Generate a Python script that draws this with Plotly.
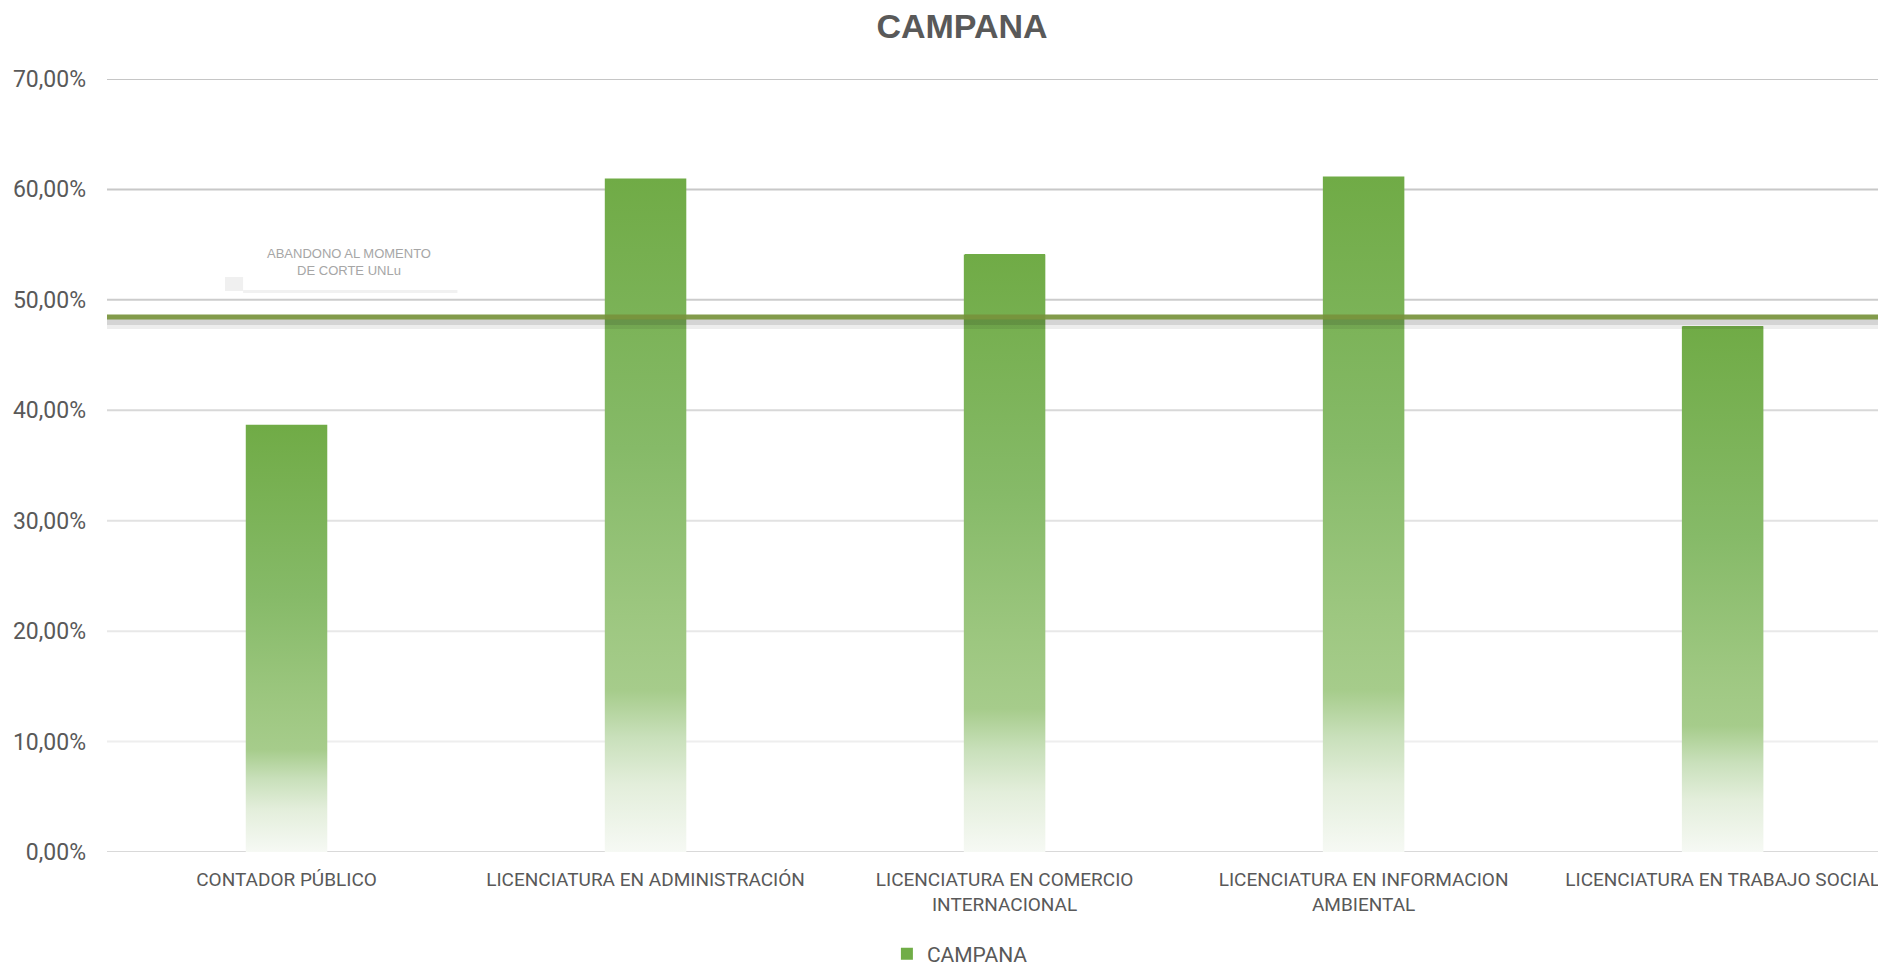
import plotly.graph_objects as go

# data
categories = [
    "CONTADOR PÚBLICO",
    "LICENCIATURA EN ADMINISTRACIÓN",
    "LICENCIATURA EN COMERCIO INTERNACIONAL",
    "LICENCIATURA EN INFORMACION AMBIENTAL",
    "LICENCIATURA EN TRABAJO SOCIAL",
]
tick_labels = [
    "CONTADOR PÚBLICO",
    "LICENCIATURA EN ADMINISTRACIÓN",
    "LICENCIATURA EN COMERCIO<br>INTERNACIONAL",
    "LICENCIATURA EN INFORMACION<br>AMBIENTAL",
    "LICENCIATURA EN TRABAJO SOCIAL",
]
abandono = [0.3869, 0.6099, 0.5411, 0.6117, 0.4760]
corte_unlu = 0.4845
y_ticks = [0.0, 0.1, 0.2, 0.3, 0.4, 0.5, 0.6, 0.7]

# styling
grid_colors = ["#d9d9d9", "#eeeeee", "#e8e8e8", "#e2e2e2", "#d8d8d8", "#cccccc", "#c8c8c8", "#c6c6c6"]
bar_gradient = [
    [0.0, "#f6f9f4"],
    [0.1, "#e3eedb"],
    [0.17, "#c9e0bb"],
    [0.24, "#a6cc8b"],
    [0.35, "#9dc780"],
    [0.6, "#86ba68"],
    [1.0, "#70ab46"],
]
bar_w = 0.223
text_grey = "#595959"

# the page body adds an 8px offset, so the figure is sized to fit the window
W, H = 1878, 960

fig = go.Figure()

fig.add_trace(go.Bar(
    x=list(range(len(categories))),
    y=abandono,
    width=bar_w,
    name="CAMPANA",
    marker=dict(color="#70AD47", line=dict(width=0)),
    customdata=categories,
    hovertemplate="%{customdata}<br>%{y:.2%}<extra></extra>",
))

# gradient overlay on each bar (a hair wider to hide the solid bar edges)
half = bar_w / 2 + 0.002
for i, v in enumerate(abandono):
    fig.add_trace(go.Scatter(
        x=[i - half, i + half, i + half, i - half, i - half],
        y=[0, 0, v, v, 0],
        mode="lines",
        line=dict(width=0),
        fill="toself",
        fillgradient=dict(type="vertical", colorscale=bar_gradient),
        showlegend=False,
        hoverinfo="skip",
    ))

shapes = []
# gridlines, fading towards the bottom
for t, c in zip(y_ticks, grid_colors):
    shapes.append(dict(
        type="line", xref="paper", x0=0, x1=1, yref="y", y0=t, y1=t,
        line=dict(color=c, width=2), layer="below",
    ))

# threshold line with soft shadow
shapes.append(dict(
    type="rect", xref="paper", x0=0, x1=1, yref="y", ysizemode="pixel",
    yanchor=corte_unlu, y0=-2, y1=-8, fillcolor="rgba(0,0,0,0.17)", line=dict(width=0),
))
shapes.append(dict(
    type="rect", xref="paper", x0=0, x1=1, yref="y", ysizemode="pixel",
    yanchor=corte_unlu, y0=-8, y1=-12, fillcolor="rgba(0,0,0,0.07)", line=dict(width=0),
))
shapes.append(dict(
    type="rect", xref="paper", x0=0, x1=1, yref="y", ysizemode="pixel",
    yanchor=corte_unlu, y0=-2.5, y1=2.5, fillcolor="rgba(119,147,60,0.92)", line=dict(width=0),
))
# faint shadow of the label box
shapes.append(dict(
    type="rect", xref="paper", x0=0.0765, x1=0.197, yref="y", ysizemode="pixel",
    yanchor=corte_unlu, y0=24, y1=27, fillcolor="#f1f1f1", line=dict(width=0),
))
shapes.append(dict(
    type="rect", xref="paper", x0=0.0663, x1=0.0765, yref="y", ysizemode="pixel",
    yanchor=corte_unlu, y0=26, y1=40, fillcolor="#f0f0f0", line=dict(width=0),
))

fig.update_layout(
    width=W,
    height=H,
    margin=dict(l=99, r=0, t=71, b=116),
    paper_bgcolor="white",
    plot_bgcolor="white",
    separators=",.",
    title=dict(
        text="<b>CAMPANA</b>",
        font=dict(family="Liberation Sans, Arial", size=34, color=text_grey),
        x=0.508, xanchor="center",
        y=1 - 18 / H, yref="container", yanchor="middle",
    ),
    xaxis=dict(
        range=[-0.5, 4.455],
        tickmode="array",
        tickvals=list(range(len(categories))),
        ticktext=tick_labels,
        showgrid=False,
        zeroline=False,
        showline=False,
        ticks="",
        tickfont=dict(family="Roboto", size=19, color=text_grey),
        ticklabelstandoff=14,
        fixedrange=True,
    ),
    yaxis=dict(
        range=[0, 0.70],
        tickmode="array",
        tickvals=y_ticks,
        tickformat=".2%",
        showgrid=False,
        zeroline=False,
        showline=False,
        ticks="",
        tickfont=dict(family="Roboto", size=23, color=text_grey),
        ticklabelstandoff=20,
        fixedrange=True,
    ),
    shapes=shapes,
    annotations=[dict(
        text="ABANDONO AL MOMENTO<br>DE CORTE UNLu",
        xref="paper", x=0.136, xanchor="center",
        yref="y", y=corte_unlu, yanchor="middle", yshift=55,
        showarrow=False,
        font=dict(family="Liberation Sans, Arial", size=13, color="#a6a6a6"),
    )],
    showlegend=True,
    legend=dict(
        orientation="h",
        xref="container", x=0.468, xanchor="left",
        yref="container", y=1 - 946 / H, yanchor="middle",
        font=dict(family="Roboto", size=21, color=text_grey),
        bgcolor="rgba(0,0,0,0)",
        borderwidth=0,
    ),
    bargap=0,
)

fig.write_html("out.html")
